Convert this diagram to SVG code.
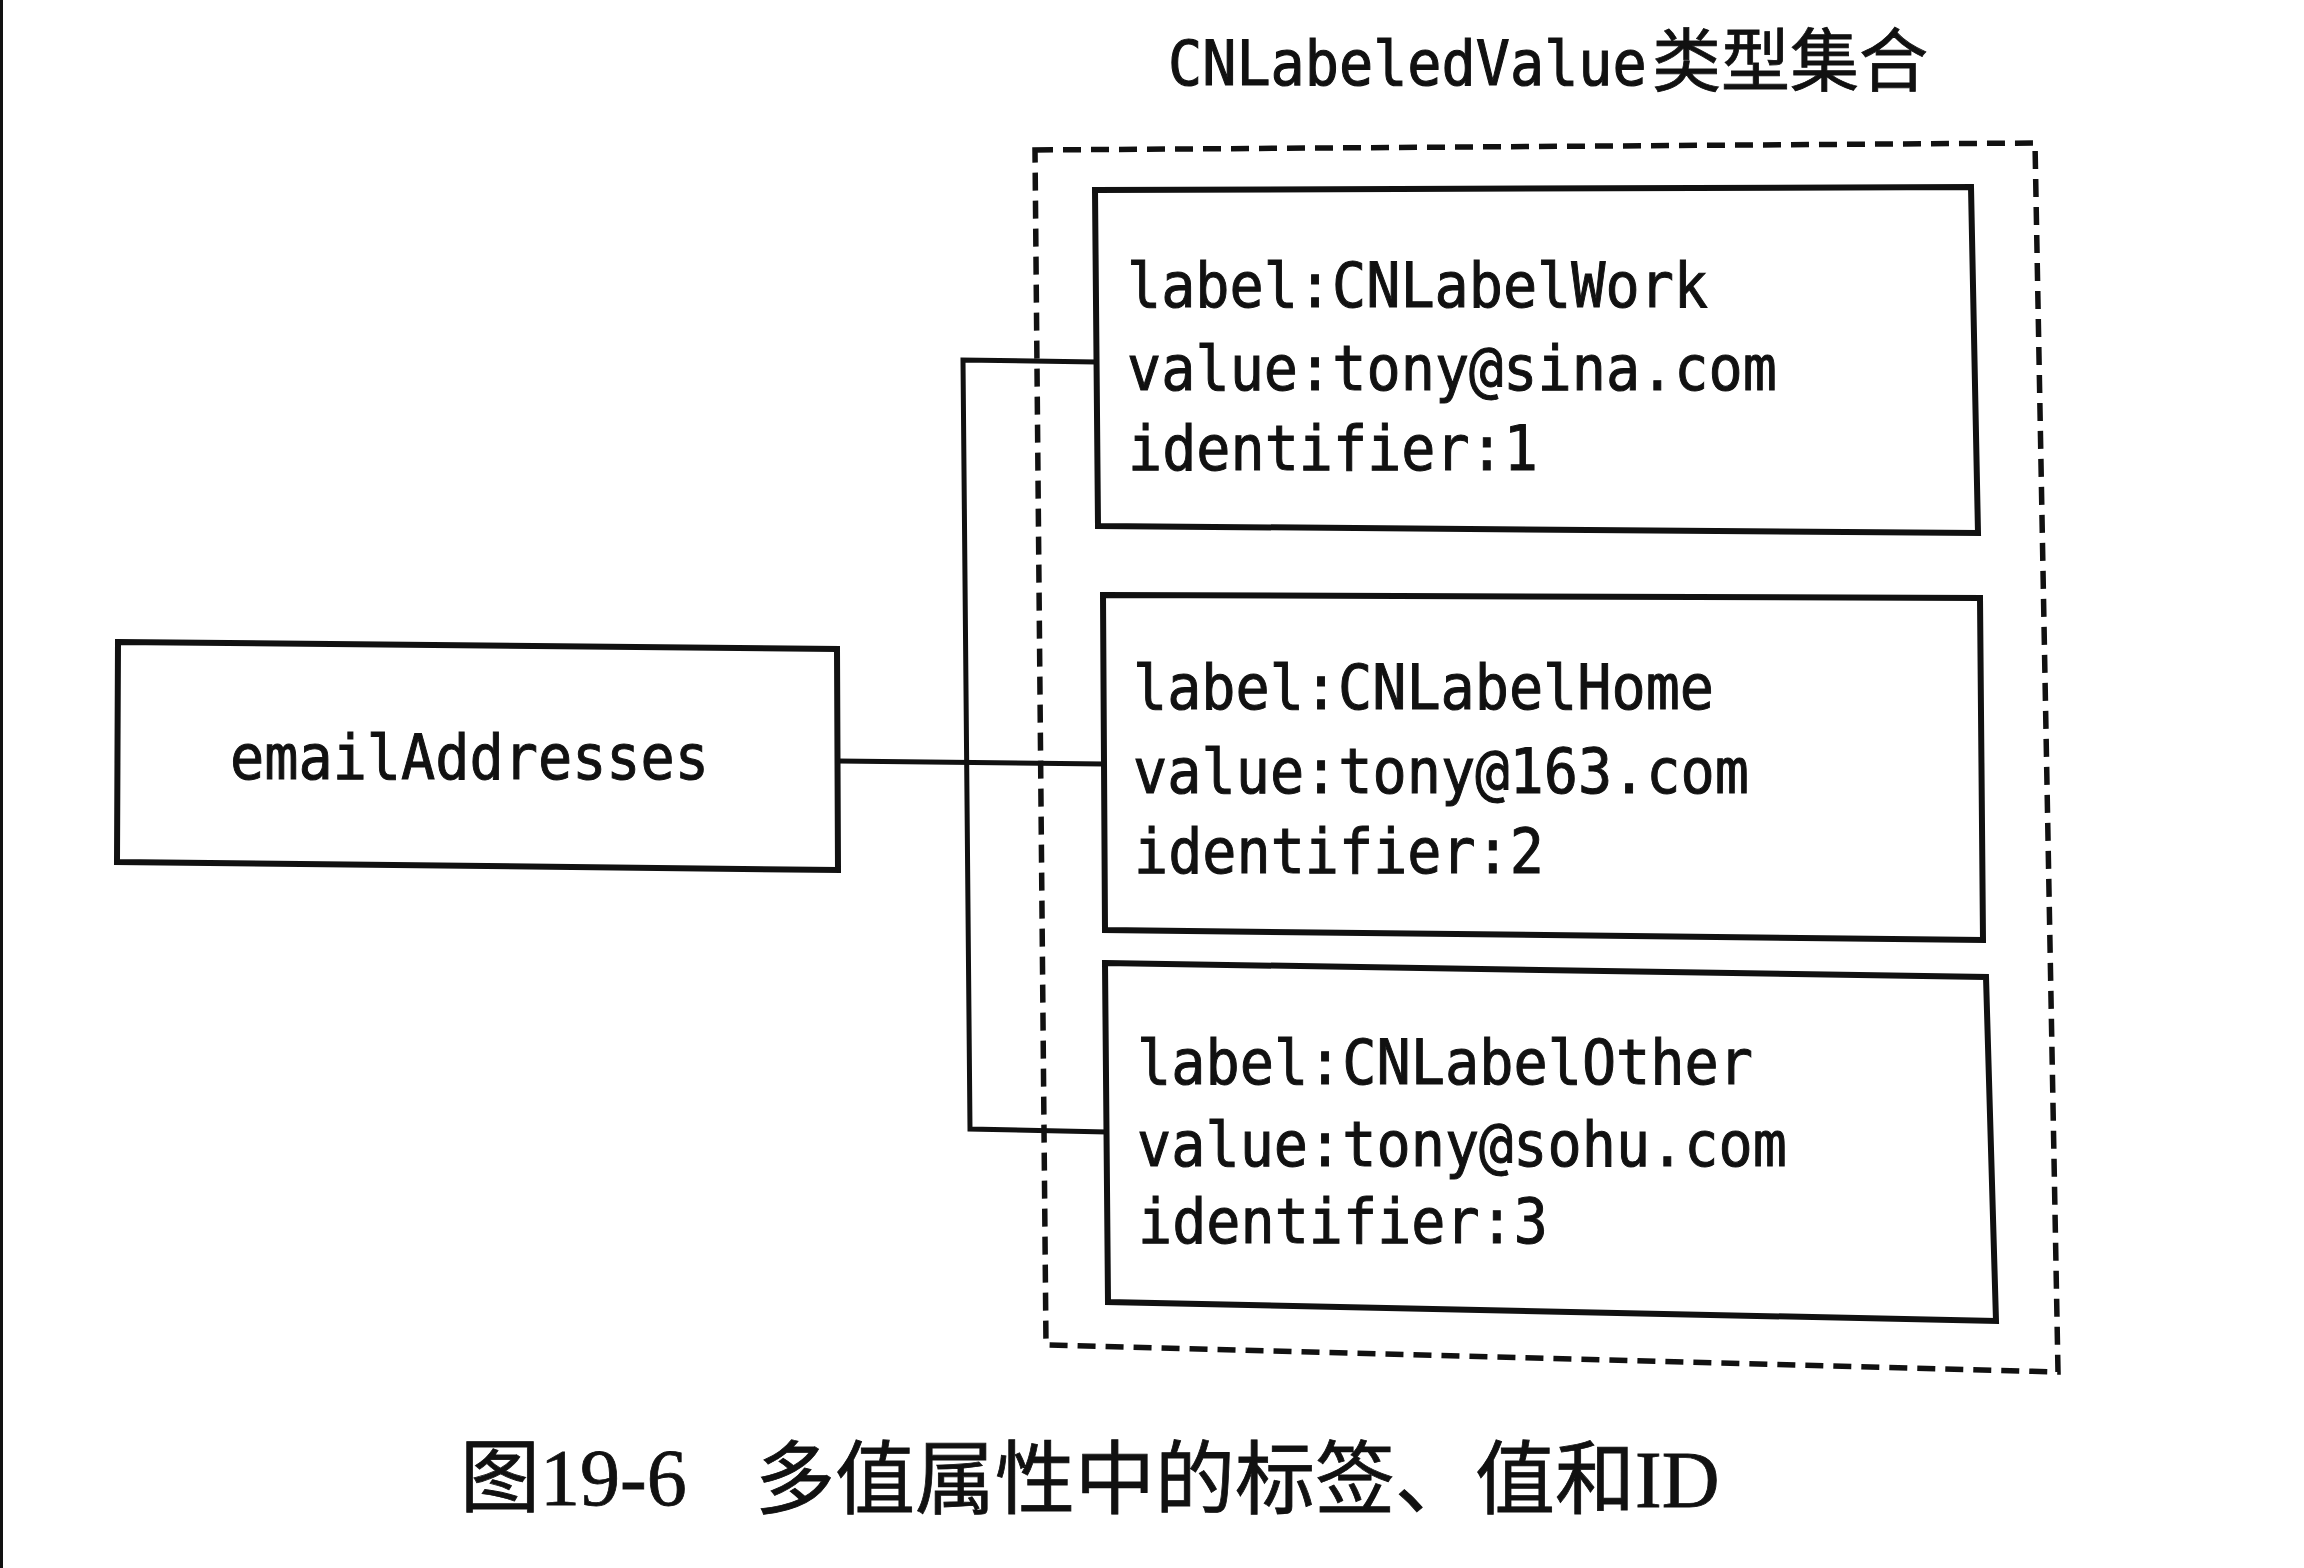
<svg xmlns="http://www.w3.org/2000/svg" width="2304" height="1568" viewBox="0 0 2304 1568">
<style>
.box{fill:none;stroke:#111;stroke-width:6;stroke-linejoin:miter}
.dash{fill:none;stroke:#111;stroke-width:5.5;stroke-dasharray:18 10}
.conn{fill:none;stroke:#111;stroke-width:5}
.mono{font-family:"DejaVu Sans Mono","Liberation Mono",monospace;font-size:62px;fill:#111;stroke:#111;stroke-width:1}
.cjk{font-family:"Noto Sans CJK SC",sans-serif;font-size:69px;fill:#111;stroke:#111;stroke-width:0.8}
.cap{font-family:"Liberation Serif","Noto Sans CJK SC",serif;font-size:80px;fill:#111;stroke:#111;stroke-width:0.8}
</style>
<rect x="0" y="0" width="2304" height="1568" fill="#fff"/>
<rect x="0" y="0" width="3" height="1568" fill="#111"/>

<g id="collection">
  <polygon class="dash" points="1035,150 2035,143 2058,1372 1046,1345"/>
  <text class="mono" transform="translate(1168,85) scale(1,1.09)" x="0" y="0" style="font-size:56.8px">CNLabeledValue</text>
  <text class="cjk" x="1652" y="86">类型集合</text>
</g>

<g id="connectors">
  <polyline class="conn" points="1096,362 963,360 970,1129 1107,1132"/>
  <line class="conn" x1="838" y1="761" x2="1104" y2="764"/>
</g>

<g id="emailAddresses">
  <polygon class="box" points="118,642 837,649 838,870 117,862"/>
  <text class="mono" x="230" y="779" textLength="479" lengthAdjust="spacingAndGlyphs">emailAddresses</text>
</g>

<g id="value1">
  <polygon class="box" points="1095,190 1971,187 1978,533 1098,526"/>
  <text class="mono" x="1127" y="307" textLength="581" lengthAdjust="spacingAndGlyphs">label:CNLabelWork</text>
  <text class="mono" x="1127" y="390" textLength="650" lengthAdjust="spacingAndGlyphs">value:tony@sina.com</text>
  <text class="mono" x="1128" y="470" textLength="410" lengthAdjust="spacingAndGlyphs">identifier:1</text>
</g>

<g id="value2">
  <polygon class="box" points="1103,595 1980,598 1983,940 1105,930"/>
  <text class="mono" x="1133" y="709" textLength="581" lengthAdjust="spacingAndGlyphs">label:CNLabelHome</text>
  <text class="mono" x="1133" y="793" textLength="616" lengthAdjust="spacingAndGlyphs">value:tony@163.com</text>
  <text class="mono" x="1134" y="873" textLength="410" lengthAdjust="spacingAndGlyphs">identifier:2</text>
</g>

<g id="value3">
  <polygon class="box" points="1105,963 1986,977 1996,1321 1108,1302"/>
  <text class="mono" x="1137" y="1084" textLength="616" lengthAdjust="spacingAndGlyphs">label:CNLabelOther</text>
  <text class="mono" x="1137" y="1166" textLength="650" lengthAdjust="spacingAndGlyphs">value:tony@sohu.com</text>
  <text class="mono" x="1138" y="1243" textLength="410" lengthAdjust="spacingAndGlyphs">identifier:3</text>
</g>

<g id="caption">
  <text class="cap" x="460" y="1505">图19-6</text>
  <text class="cap" x="755" y="1507">多值属性中的标签、值和ID</text>
</g>
</svg>
